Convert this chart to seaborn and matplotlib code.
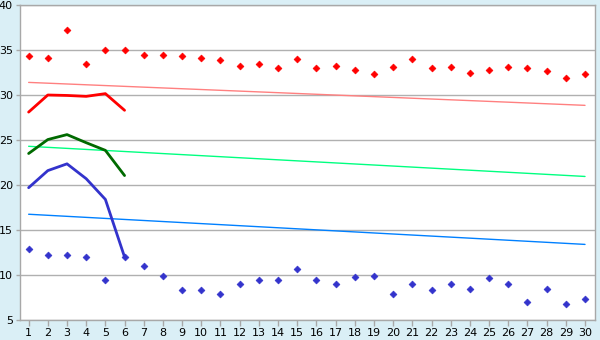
import matplotlib
matplotlib.use("Agg")
import matplotlib.pyplot as plt
import seaborn as sns
import numpy as np
import pandas as pd

days = list(range(1, 31))
red_points = [34.3, 34.15, 37.2, 33.4, 35.0, 35.0, 34.4, 34.4, 34.3, 34.1,
              33.85, 33.2, 33.4, 33.0, 34.0, 33.0, 33.2, 32.75, 32.3, 33.1,
              34.0, 33.0, 33.1, 32.4, 32.75, 33.1, 33.0, 32.65, 31.85, 32.3]
blue_points = [12.85, 12.2, 12.2, 12.0, 9.4, 12.0, 11.0, 9.85, 8.3, 8.3,
               7.85, 8.95, 9.4, 9.4, 10.65, 9.4, 8.95, 9.75, 9.85, 7.85,
               8.95, 8.3, 8.95, 8.4, 9.65, 8.95, 6.95, 8.5, 6.75, 7.3]

line_days = [1, 2, 3, 4, 5, 6]
red_line = [28.1, 30.0, 29.95, 29.85, 30.15, 28.3]
green_line = [23.5, 25.05, 25.6, 24.7, 23.85, 21.05]
blue_line = [19.7, 21.6, 22.35, 20.7, 18.4, 12.0]

trend_days = [1, 30]
red_trend = [31.4, 28.85]
green_trend = [24.3, 20.95]
blue_trend = [16.75, 13.4]

y_ticks = [5, 10, 15, 20, 25, 30, 35, 40]

sns.set_style("white")
plt.rcParams['font.family'] = ['DejaVu Sans']

fig = plt.figure(figsize=(6, 3.4), dpi=100)
fig.patch.set_facecolor("#daeff6")
ax = fig.add_axes([20/600, 1-320/340, 575/600, 315/340])
ax.set_facecolor("white")

for yv in y_ticks:
    ax.axhline(yv, color="#b0b0b0", lw=1.0, zorder=0)

df_pts = pd.DataFrame({"day": days, "red": red_points, "blue": blue_points})
df_line = pd.DataFrame({"day": line_days, "red": red_line, "green": green_line, "blue": blue_line})
df_tr = pd.DataFrame({"day": trend_days, "red": red_trend, "green": green_trend, "blue": blue_trend})

sns.lineplot(data=df_tr, x="day", y="red", color="#ff8080", lw=1.0, ax=ax)
sns.lineplot(data=df_tr, x="day", y="green", color="#00ff80", lw=1.0, ax=ax)
sns.lineplot(data=df_tr, x="day", y="blue", color="#0080ff", lw=1.0, ax=ax)

sns.lineplot(data=df_line, x="day", y="red", color="#ff0000", lw=2.0, ax=ax)
sns.lineplot(data=df_line, x="day", y="green", color="#006a00", lw=2.0, ax=ax)
sns.lineplot(data=df_line, x="day", y="blue", color="#3333cc", lw=2.0, ax=ax)

sns.scatterplot(data=df_pts, x="day", y="red", color="#ff0000", marker="D", s=12,
                edgecolor="#ff0000", linewidth=0.5, ax=ax, zorder=5)
sns.scatterplot(data=df_pts, x="day", y="blue", color="#3333cc", marker="D", s=12,
                edgecolor="#3333cc", linewidth=0.5, ax=ax, zorder=5)

ax.set_xlim(0.55, 30.52)
ax.set_ylim(5, 40)
ax.set_xticks(days)
ax.set_xticklabels([str(d) for d in days])
ax.set_yticks(y_ticks)
ax.set_yticklabels([str(v) for v in y_ticks])
ax.set_xlabel("")
ax.set_ylabel("")

for s in ax.spines.values():
    s.set_color("#a8a8a8")
    s.set_linewidth(1.0)
    s.set_visible(True)

ax.tick_params(axis="both", which="both", direction="out", colors="#a8a8a8",
               labelcolor="black", labelsize=8)
ax.tick_params(axis="x", length=4, width=1, pad=2, bottom=True)
ax.tick_params(axis="y", length=3, width=1, pad=2, left=True)

fig.savefig("out.png", dpi=100, facecolor=fig.get_facecolor())
